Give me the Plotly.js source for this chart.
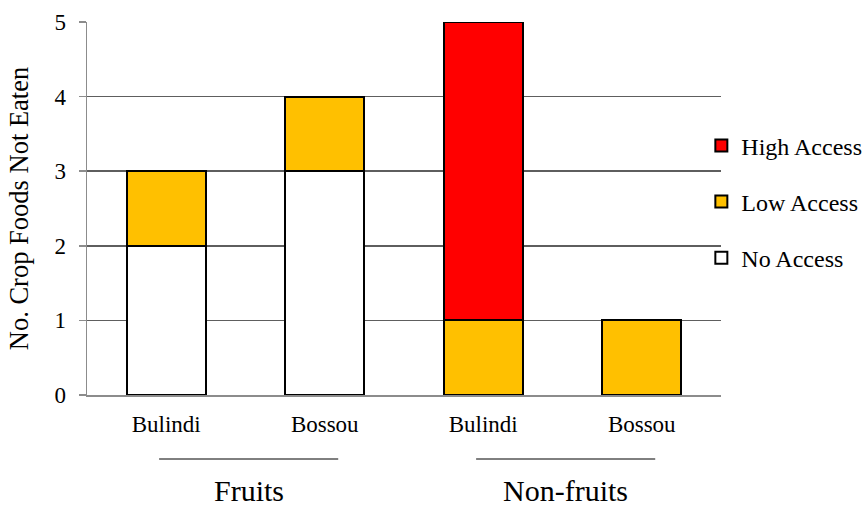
<!DOCTYPE html>
<html>
<head>
<meta charset="utf-8">
<script src="https://cdn.plot.ly/plotly-3.0.1.min.js"></script>
<style>html,body{margin:0;padding:0;background:#fff;}#chart{width:864px;height:508px;}</style>
</head>
<body>
<div id="chart"></div>
<script>
const positions = [0, 1, 2, 3];
const siteLabels = ["Bulindi", "Bossou", "Bulindi", "Bossou"];
const groupNames = ["Fruits", "Non-fruits"];
const groupCenters = [0.5, 2.5];
const noAccess = [2, 3, 0, 0];
const lowAccess = [1, 1, 1, 1];
const highAccess = [0, 0, 4, 0];
const yTicks = [0, 1, 2, 3, 4, 5];

const font = "Liberation Serif, Times New Roman, serif";
const line = {color: "#000", width: 2};

const traces = [
  {type: "bar", name: "No Access", x: positions, y: noAccess, legendgroup: "c", legendrank: 3,
   marker: {color: "#FFFFFF", line: line}},
  {type: "bar", name: "Low Access", x: positions, y: lowAccess, legendgroup: "b", legendrank: 2,
   marker: {color: "#FFC000", line: line}},
  {type: "bar", name: "High Access", x: positions, y: highAccess, legendgroup: "a", legendrank: 1,
   marker: {color: "#FF0000", line: line}}
];

const shapes = [];
const annotations = [];
groupNames.forEach((g, i) => {
  const c = groupCenters[i];
  shapes.push({type: "line", xref: "x", yref: "paper", x0: c - 0.545, x1: c + 0.585,
    y0: -0.1716, y1: -0.1716, line: {color: "#000", width: 1}});
  annotations.push({xref: "x", yref: "paper", x: c + 0.02, y: -0.3029, text: g, showarrow: false,
    xanchor: "center", yanchor: "bottom", borderpad: 0,
    font: {family: font, size: 30, color: "#000"}});
});

const layout = {
  width: 864, height: 508,
  margin: {l: 87, r: 143, t: 22, b: 113, autoexpand: false},
  paper_bgcolor: "#fff", plot_bgcolor: "#fff",
  barmode: "stack", bargap: 0.5,
  font: {family: font, color: "#000", size: 23},
  showlegend: true,
  legend: {x: 0.969, y: 0.518, xanchor: "left", yanchor: "middle", traceorder: "grouped",
    tracegroupgap: 22, bgcolor: "rgba(0,0,0,0)", font: {family: font, size: 24, color: "#000"}},
  xaxis: {range: [-0.5, 3.5], tickmode: "array", tickvals: positions, ticktext: siteLabels,
    ticks: "", ticklabelstandoff: 8, showgrid: false, zeroline: false, showline: true,
    linecolor: "#8c8c8c", linewidth: 1.5, automargin: false,
    tickfont: {family: font, size: 23, color: "#000"}, fixedrange: true},
  xaxis2: {overlaying: "x", anchor: "y", side: "bottom", range: [-0.5, 3.5], tickmode: "array",
    tickvals: [-0.5, 0.5, 1.5, 2.5, 3.5], ticks: "outside", ticklen: 6, tickcolor: "#8c8c8c", tickwidth: 1.5,
    showticklabels: false, showgrid: false, zeroline: false, showline: false},
  yaxis: {range: [0, 5], tickmode: "array", tickvals: yTicks, ticks: "outside", ticklen: 7,
    tickcolor: "#8c8c8c", tickwidth: 1.5, ticklabelstandoff: 8, automargin: false,
    showgrid: true, gridcolor: "#5e5e5e", gridwidth: 1.5, zeroline: false,
    showline: true, linecolor: "#8c8c8c", linewidth: 1.5,
    tickfont: {family: font, size: 23, color: "#000"},
    title: {text: "No. Crop Foods Not Eaten", font: {family: font, size: 26.5, color: "#000"}, standoff: 18}},
  shapes: shapes,
  annotations: annotations
};

Plotly.newPlot("chart", traces, layout, {displayModeBar: false, staticPlot: true});
</script>
</body>
</html>
